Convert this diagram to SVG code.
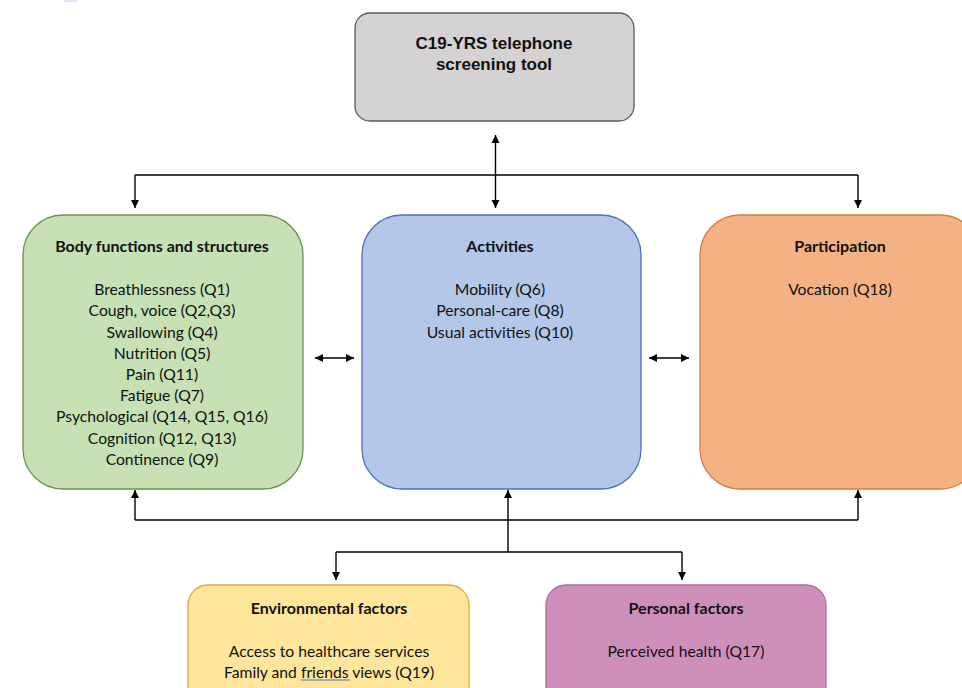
<svg xmlns="http://www.w3.org/2000/svg" width="962" height="688" viewBox="0 0 962 688">
<defs>
<marker id="ah" viewBox="0 0 10 10" refX="10" refY="5" markerWidth="8" markerHeight="9" markerUnits="userSpaceOnUse" orient="auto-start-reverse">
<path d="M0,0 L10,5 L0,10 Z" fill="#000"/>
</marker>
</defs>
<style>
.box{stroke-width:1.3}
.t{font-family:Lato,"Liberation Sans",sans-serif;font-size:15.7px;fill:#111;text-anchor:middle}
.b{font-weight:bold;font-size:16px}
.h{font-family:"Liberation Sans",Arial,sans-serif;font-size:17px;font-weight:bold;fill:#111;text-anchor:middle}
.c{fill:none;stroke:#000;stroke-width:1.4}
</style>
<rect width="962" height="688" fill="#fff"/>
<rect x="64" y="0" width="13" height="2" fill="#dbe6f6"/>
<g id="top">
<rect class="box" x="355" y="13" width="279" height="108" rx="15" fill="#d4d2d3" stroke="#5a5a5a"/>
<text class="h" x="494" y="49">C19-YRS telephone</text>
<text class="h" x="494" y="70">screening tool</text>
</g>
<g id="body">
<rect class="box" x="23" y="215" width="280" height="274" rx="40" fill="#c7e0b4" stroke="#6e8f57"/>
<text class="t b" x="162" y="252">Body functions and structures</text>
<text class="t" x="162" y="295">Breathlessness (Q1)</text>
<text class="t" x="162" y="316">Cough, voice (Q2,Q3)</text>
<text class="t" x="162" y="338">Swallowing (Q4)</text>
<text class="t" x="162" y="359">Nutrition (Q5)</text>
<text class="t" x="162" y="380">Pain (Q11)</text>
<text class="t" x="162" y="401">Fatigue (Q7)</text>
<text class="t" x="162" y="422">Psychological (Q14, Q15, Q16)</text>
<text class="t" x="162" y="444">Cognition (Q12, Q13)</text>
<text class="t" x="162" y="465">Continence (Q9)</text>
</g>
<g id="activities">
<rect class="box" x="362" y="215" width="279" height="274" rx="40" fill="#b4c7e8" stroke="#4b72b9"/>
<text class="t b" x="500" y="252">Activities</text>
<text class="t" x="500" y="295">Mobility (Q6)</text>
<text class="t" x="500" y="316">Personal-care (Q8)</text>
<text class="t" x="500" y="338">Usual activities (Q10)</text>
</g>
<g id="participation">
<rect class="box" x="700" y="215" width="280" height="274" rx="40" fill="#f4b183" stroke="#da7a40"/>
<text class="t b" x="840" y="252">Participation</text>
<text class="t" x="840" y="295">Vocation (Q18)</text>
</g>
<g id="environmental">
<rect class="box" x="188" y="585" width="281" height="130" rx="20" fill="#ffe69a" stroke="#d7aa3f"/>
<text class="t b" x="329" y="614">Environmental factors</text>
<text class="t" x="329" y="657">Access to healthcare services</text>
<text class="t" x="329" y="678">Family and friends views (Q19)</text>
<line x1="301" y1="680" x2="350" y2="680" stroke="#4472c4" stroke-width="1.2"/>
</g>
<g id="personal">
<rect class="box" x="546" y="585" width="280" height="130" rx="20" fill="#cf8fbb" stroke="#ad6e9a"/>
<text class="t b" x="686" y="614">Personal factors</text>
<text class="t" x="686" y="657">Perceived health (Q17)</text>
</g>
<g id="connectors">
<line class="c" x1="495.5" y1="135" x2="495.5" y2="208" marker-start="url(#ah)" marker-end="url(#ah)"/>
<line class="c" x1="135" y1="175" x2="858" y2="175"/>
<line class="c" x1="135" y1="175" x2="135" y2="208" marker-end="url(#ah)"/>
<line class="c" x1="858" y1="175" x2="858" y2="208" marker-end="url(#ah)"/>
<line class="c" x1="315" y1="358" x2="354" y2="358" marker-start="url(#ah)" marker-end="url(#ah)"/>
<line class="c" x1="649" y1="358" x2="689" y2="358" marker-start="url(#ah)" marker-end="url(#ah)"/>
<line class="c" x1="135" y1="520" x2="858" y2="520"/>
<line class="c" x1="135" y1="520" x2="135" y2="490" marker-end="url(#ah)"/>
<line class="c" x1="858" y1="520" x2="858" y2="490" marker-end="url(#ah)"/>
<line class="c" x1="508" y1="552" x2="508" y2="490" marker-end="url(#ah)"/>
<line class="c" x1="336" y1="552" x2="682" y2="552"/>
<line class="c" x1="336" y1="552" x2="336" y2="580" marker-end="url(#ah)"/>
<line class="c" x1="682" y1="552" x2="682" y2="580" marker-end="url(#ah)"/>
</g>
</svg>
